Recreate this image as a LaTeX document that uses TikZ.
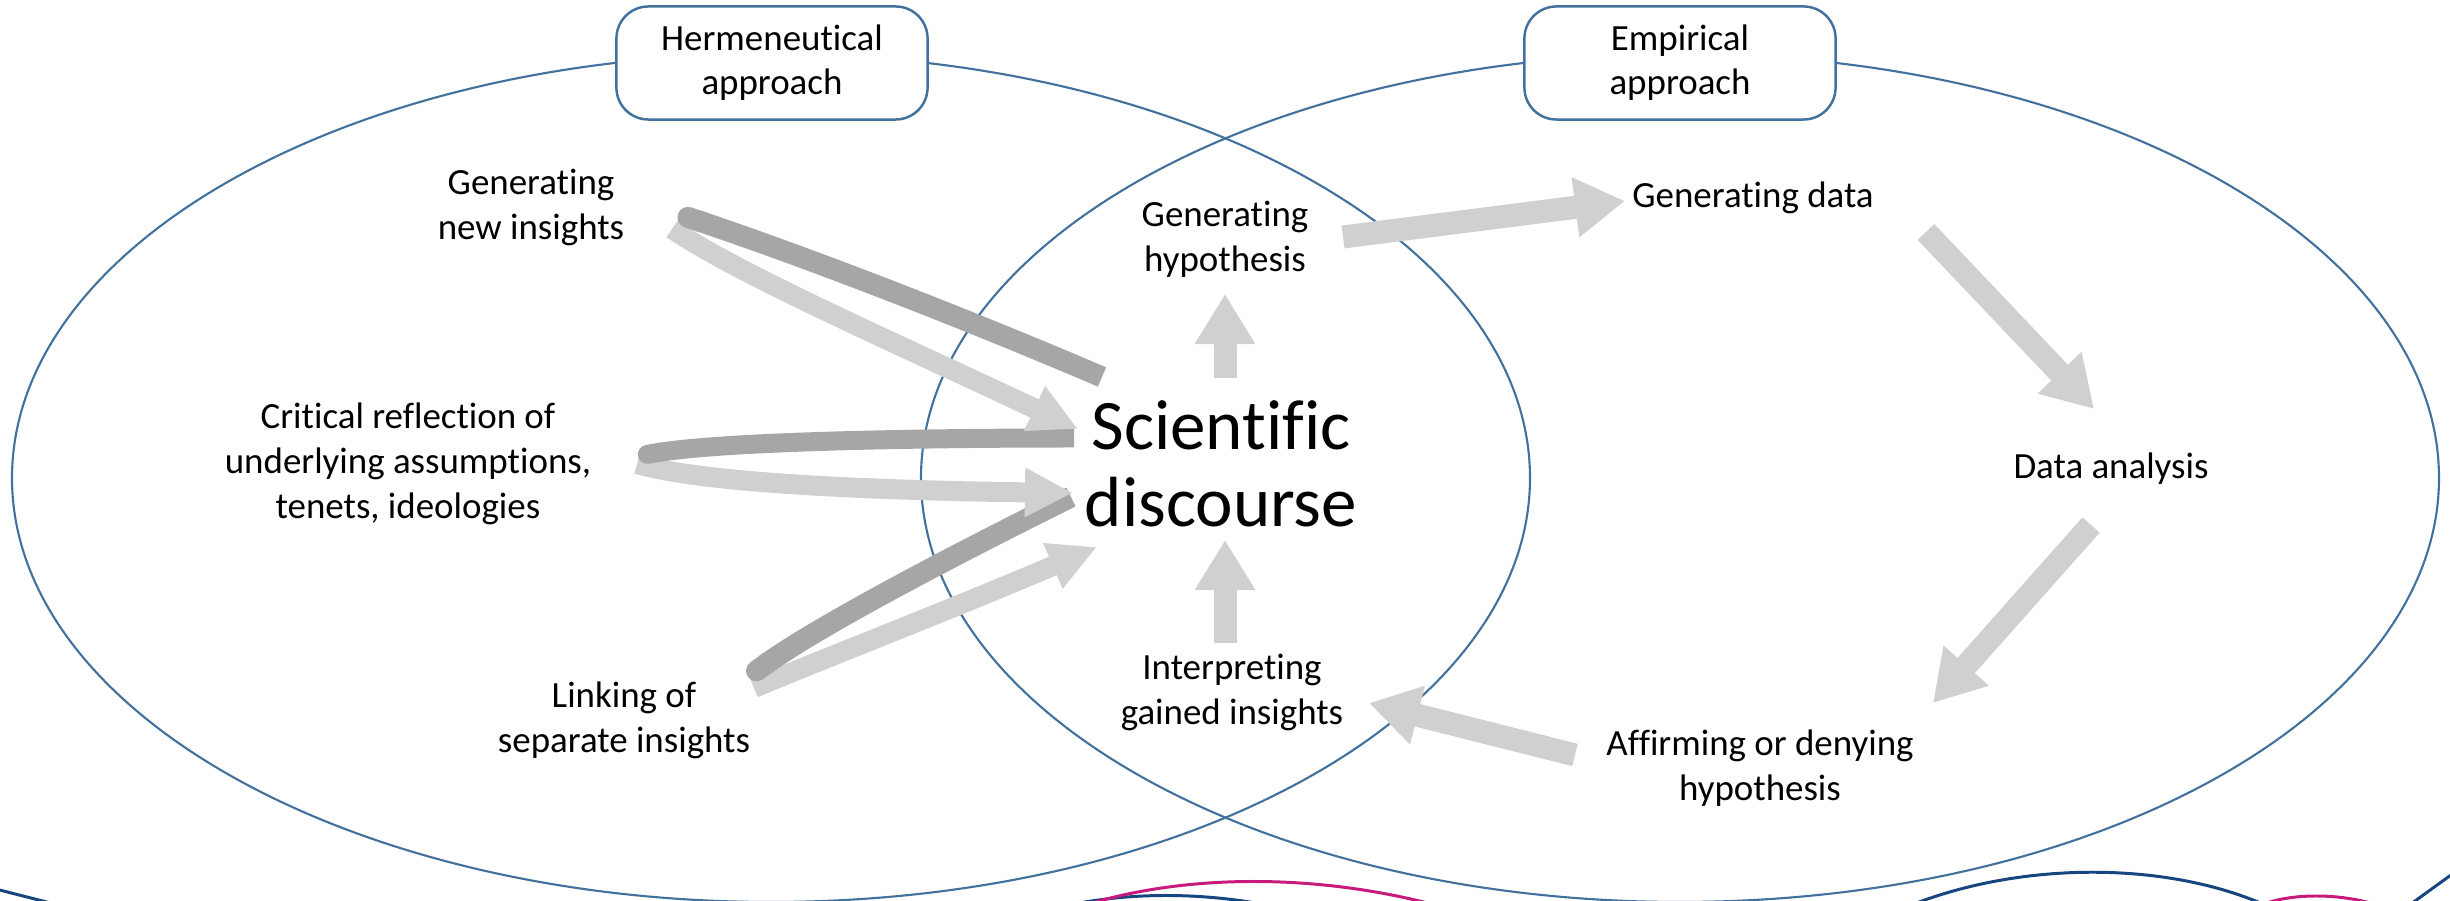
\documentclass[tikz,border=0pt]{standalone}
\usepackage{fontspec}
\setmainfont{Carlito}[Ligatures={NoCommon,NoRare}]
\usetikzlibrary{arrows.meta}
\definecolor{rimblue}{RGB}{65,113,156}
\definecolor{bandlight}{RGB}{208,208,208}
\definecolor{banddark}{RGB}{166,166,166}
\definecolor{footnavy}{RGB}{22,69,128}
\definecolor{footpink}{RGB}{200,25,125}
\tikzset{
  rim/.style={draw=rimblue, line width=0.6pt},
  approachbox/.style={draw=rimblue, line width=0.7pt, fill=white, rounded corners=0.32cm,
    minimum width=3.11cm, minimum height=1.13cm, align=center, inner sep=0pt,
    font=\fontsize{10.5}{12.6}\selectfont},
  txt/.style={align=center, inner sep=0pt, font=\fontsize{10.5}{12.8}\selectfont},
  bigtxt/.style={align=center, inner sep=0pt, font=\fontsize{20.2}{21.9}\selectfont},
  blockarrow/.style={draw=bandlight, line width=0.23cm,
    -{Triangle[width=0.57cm,length=0.50cm]}},
  lightband/.style={draw=bandlight, line width=0.20cm,
    -{Triangle[width=0.46cm,length=0.48cm]}},
  darkband/.style={draw=banddark, line width=0.21cm, -{Round Cap}},
  wave/.style={line width=0.85pt},
}
\begin{document}
\begin{tikzpicture}[x=0.01cm, y=-0.01cm]
\useasboundingbox (0,0) rectangle (2450,901);

% the two overlapping approaches and the footer waves
\begin{scope}
  \clip (0,0) rectangle (2450,901);
  \draw[rim] (771,478) ellipse [x radius=759, y radius=424];
  \draw[rim] (1680,478) ellipse [x radius=759, y radius=424];
  \draw[wave, footnavy] (-20,885) -- (70,908);
  \draw[wave, footnavy] (1020,918) .. controls (1110,888) and (1220,888) .. (1320,918);
  \draw[wave, footpink] (1040,922) .. controls (1160,868) and (1340,868) .. (1490,922);
  \draw[wave, footnavy] (1860,930) .. controls (1990,853) and (2200,853) .. (2310,930);
  \draw[wave, footpink] (2255,908) .. controls (2285,892) and (2345,892) .. (2385,908);
  \draw[wave, footnavy] (2404,909) -- (2462,867);
\end{scope}

% approach labels
\node[approachbox] (herm) at (772,63) {Hermeneutical\\approach};
\node[approachbox] (emp) at (1680,63) {Empirical\\approach};

% text nodes
\node[txt] (newins) at (531,207) {Generating\\new insights};
\node[txt] (critical) at (408,464) {Critical reflection of\\underlying assumptions,\\tenets, ideologies};
\node[txt] (linking) at (624,720) {Linking of\\separate insights};
\node[txt] (genhyp) at (1225,239) {Generating\\hypothesis};
\node[bigtxt] (sci) at (1221,464) {Scientific\\discourse};
\node[txt] (interp) at (1232,692) {Interpreting\\gained insights};
\node[txt] (gendata) at (1753,198) {Generating data};
\node[txt] (analysis) at (2111,469) {Data analysis};
\node[txt] (affirm) at (1760,768) {Affirming or denying\\hypothesis};

% arrow end points
\coordinate (hyp-out) at (1343,237);
\coordinate (data-in) at (1625,201);
\coordinate (data-out) at (1926,232);
\coordinate (ana-in) at (2094,409);
\coordinate (ana-out) at (2091,525);
\coordinate (aff-in) at (1933,703);
\coordinate (aff-out) at (1575,755);
\coordinate (int-in) at (1369,703);
\coordinate (sci-top) at (1225,378);
\coordinate (hyp-in) at (1225,294);
\coordinate (int-top) at (1225,643);
\coordinate (sci-in) at (1225,540);

% empirical cycle
\draw[blockarrow] (hyp-out) -- (data-in);
\draw[blockarrow] (data-out) -- (ana-in);
\draw[blockarrow] (ana-out) -- (aff-in);
\draw[blockarrow] (aff-out) -- (int-in);
\draw[blockarrow] (sci-top) -- (hyp-in);
\draw[blockarrow] (int-top) -- (sci-in);

% hermeneutical loops: linking of separate insights
\coordinate (l3-fold) at (754,688);
\coordinate (l3-tip) at (1097,547);
\coordinate (l3-start) at (1071,497);
\coordinate (l3-end) at (748,677);
\draw[lightband] (l3-fold) .. controls (820,660) and (950,610) .. (l3-tip);
\draw[darkband] (l3-start) .. controls (960,552) and (820,625) .. (l3-end);

% critical reflection
\coordinate (l2-fold) at (637,464);
\coordinate (l2-tip) at (1073,493);
\coordinate (l2-start) at (1074,438);
\coordinate (l2-end) at (638,456);
\draw[lightband] (l2-fold) .. controls (700,482) and (850,490) .. (l2-tip);
\draw[darkband, line width=0.19cm] (l2-start) .. controls (900,438) and (720,442) .. (l2-end);

% generating new insights
\coordinate (l1-fold) at (672,229);
\coordinate (l1-tip) at (1078,429);
\coordinate (l1-start) at (1102,377);
\coordinate (l1-end) at (678,214);
\draw[lightband] (l1-fold) .. controls (740,275) and (900,345) .. (l1-tip);
\draw[darkband] (l1-start) .. controls (950,312) and (800,255) .. (l1-end);
\end{tikzpicture}
\end{document}
